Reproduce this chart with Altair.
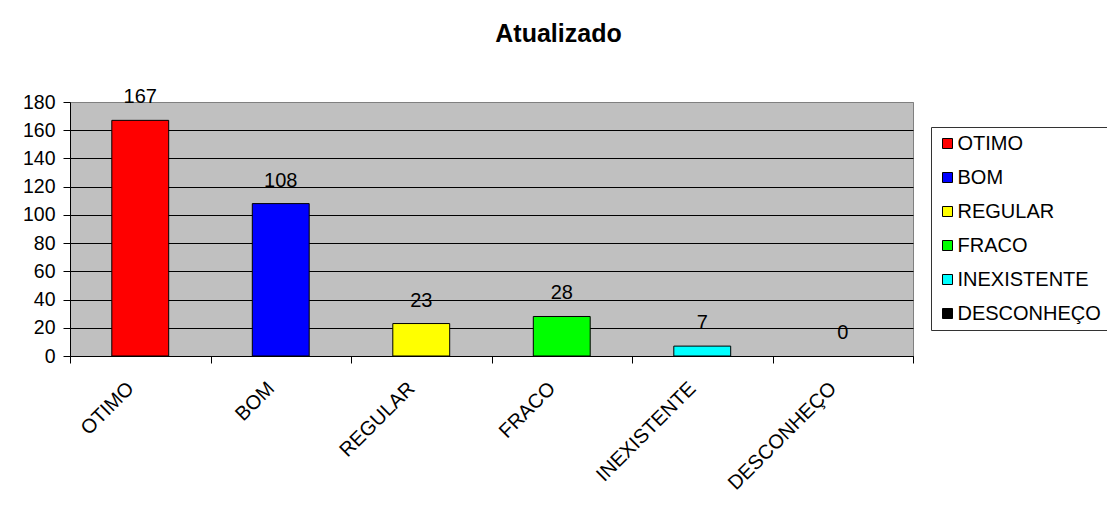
import altair as alt
import pandas as pd

categories = ["OTIMO", "BOM", "REGULAR", "FRACO", "INEXISTENTE", "DESCONHEÇO"]
values = [167, 108, 23, 28, 7, 0]
colors = ["#FF0000", "#0000FF", "#FFFF00", "#00FF00", "#00FFFF", "#000000"]
y_ticks = [0, 20, 40, 60, 80, 100, 120, 140, 160, 180]
chart_title = "Atualizado"

FONT = "Liberation Sans"

df = pd.DataFrame({"categoria": categories, "valor": values})

x_enc = alt.X(
    "categoria:N",
    sort=categories,
    scale=alt.Scale(paddingInner=0, paddingOuter=0),
    axis=alt.Axis(
        title=None,
        labelAngle=315,
        labelAlign="right",
        labelBaseline="middle",
        labelFontSize=20,
        labelFont=FONT,
        labelColor="black",
        labelPadding=22,
        labelOffset=-10,
        labelOverlap=False,
        tickBand="extent",
        tickSize=7,
        tickColor="black",
        domainColor="black",
        grid=False,
    ),
)

y_enc = alt.Y(
    "valor:Q",
    scale=alt.Scale(domain=[0, 180], nice=False),
    axis=alt.Axis(
        title=None,
        values=y_ticks,
        grid=True,
        gridColor={"condition": {"test": "datum.value === 180", "value": "#808080"}, "value": "black"},
        gridWidth=1,
        tickSize=7,
        tickColor="black",
        domainColor="black",
        labelFontSize=19.5,
        labelFont=FONT,
        labelColor="black",
        labelPadding=8,
        labelOverlap=False,
    ),
)

bars = alt.Chart(df).mark_bar(
    width=alt.RelativeBandSize(0.405), stroke="black", strokeWidth=1
).encode(
    x=x_enc,
    y=y_enc,
    strokeOpacity=alt.condition(alt.datum.valor > 0, alt.value(1), alt.value(0)),
    color=alt.Color(
        "categoria:N",
        sort=categories,
        scale=alt.Scale(domain=categories, range=colors),
        legend=alt.Legend(
            title=None,
            orient="none",
            legendX=861,
            legendY=25,
            symbolType="square",
            symbolSize=100,
            symbolStrokeColor="black",
            symbolStrokeWidth=1,
            symbolOpacity=1,
            labelFontSize=20,
            labelFont=FONT,
            labelColor="black",
            labelOffset=0,
            rowPadding=14,
            padding=6.5,
            strokeColor="#333333",
            fillColor="white",
            cornerRadius=0,
            labelLimit=300,
        ),
    ),
)

labels = alt.Chart(df).mark_text(
    dy=-17, baseline="alphabetic", align="center", fontSize=20, font=FONT, color="black"
).encode(x=x_enc, y=y_enc, text="valor:Q")

chart = (
    alt.layer(bars, labels)
    .properties(
        width=843,
        height=254,
        background="white",
        autosize=alt.AutoSizeParams(type="none"),
        padding={"left": 62, "top": 94, "right": 194, "bottom": 147},
        title=alt.Title(
            chart_title,
            fontSize=25,
            fontWeight="bold",
            font=FONT,
            color="black",
            anchor="middle",
            frame="group",
            dx=67,
            offset=20,
            baseline="alphabetic",
        ),
    )
    .configure_view(fill="#C0C0C0", stroke="#808080", strokeWidth=1)
)

chart.save("out.html", embed_options={"renderer": "svg", "actions": False})
